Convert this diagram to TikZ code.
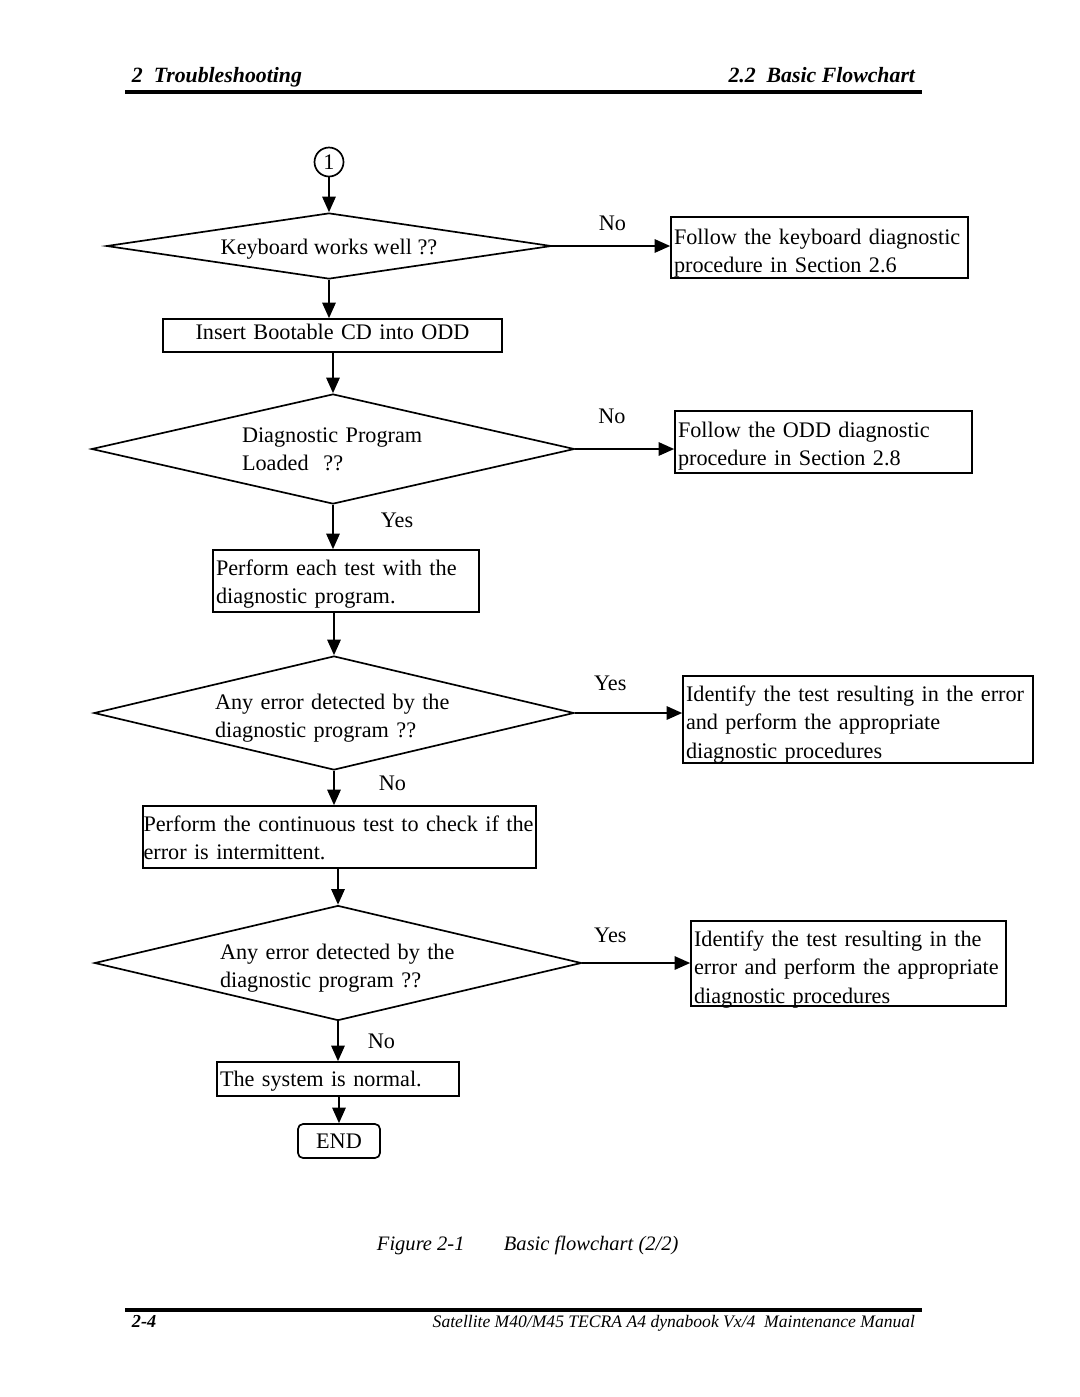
\documentclass[tikz,border=0pt]{standalone}
\usepackage{fontspec}
\setmainfont{Liberation Serif}
\usepackage{tikz}
\usetikzlibrary{
    arrows.meta,
    shapes.geometric,
    positioning,
}
\newlength{\pxu}
\setlength{\pxu}{0.025cm}
\hyphenpenalty=10000
\exhyphenpenalty=10000

\begin{document}
\begin{tikzpicture}[x=1\pxu, y=-1\pxu, >={Triangle[length=11pt, width=9.5pt]}]

    \tikzstyle{commonNode}=[draw=black, line width=1.2pt, font=\fontsize{15.8}{20.6}\selectfont, inner sep=0pt]
    \tikzstyle{decision}=[commonNode, diamond, align=left]
    \tikzstyle{process}=[commonNode, rectangle, align=left, inner xsep=3\pxu]
    \tikzstyle{terminal}=[commonNode, rectangle, rounded corners=5\pxu, minimum width=82\pxu, minimum height=34\pxu, text height=24\pxu, text depth=10\pxu]
    \tikzstyle{connector}=[commonNode, circle, minimum size=29\pxu]
    \tikzstyle{flow}=[->, line width=1.2pt]
    \tikzstyle{answer}=[font=\fontsize{15.8}{20.6}\selectfont, inner sep=0pt]

    % Page
    \fill[white] (0,0) rectangle (1080,1397);

    % Header and footer
    \node at (127, 82) [anchor=base west, font=\fontsize{15.5}{18}\selectfont\bfseries\itshape] (HeadL) {2 \ Troubleshooting};
    \node at (920, 82) [anchor=base east, font=\fontsize{15.5}{18}\selectfont\bfseries\itshape] (HeadR) {2.2 \ Basic Flowchart};
    \fill (125, 90) rectangle (922, 94);
    \fill (125, 1308) rectangle (922, 1312);
    \node at (127, 1327) [anchor=base west, font=\fontsize{13}{15}\selectfont\bfseries\itshape] (FootL) {2-4};
    \node at (920, 1327) [anchor=base east, font=\fontsize{12.5}{15}\selectfont\itshape] (FootR) {Satellite M40/M45 TECRA A4 dynabook Vx/4 \ Maintenance Manual};

    % Caption
    \node at (372, 1250) [anchor=base west, font=\fontsize{14.6}{17}\selectfont\itshape] (Caption) {Figure 2-1\hspace{28pt}Basic flowchart (2/2)};

    % Main column
    \node at (329, 162) [connector] (C1) {1};
    \node at (329, 246) [decision, aspect=6.74, minimum width=445\pxu, minimum height=66\pxu, text height=20\pxu, text depth=4\pxu] (KBD) {Keyboard works well ??};
    \node at (332.5, 335.5) [process, align=center, text width=333\pxu, text height=20\pxu, text depth=13\pxu] (Ins) {Insert Bootable CD into ODD};
    \node at (333, 449) [decision, aspect=4.39, minimum width=483\pxu, minimum height=110\pxu, text width=182\pxu, text height=17\pxu, text depth=31\pxu] (DPL) {Diagnostic Program\\ Loaded \ ??};
    \node at (346, 581) [process, text width=260\pxu, text height=25\pxu, text depth=37\pxu] (Perf) {Perform each test with the\\ diagnostic program.};
    \node at (334, 713) [decision, aspect=4.21, minimum width=480\pxu, minimum height=114\pxu, text width=238\pxu, text height=20\pxu, text depth=28\pxu] (Err1) {Any error detected by the\\ diagnostic program ??};
    \node at (339.5, 837) [process, inner xsep=0.5\pxu, text width=392\pxu, text height=25\pxu, text depth=37\pxu] (Cont) {Perform the continuous test to check if the\\ error is intermittent.};
    \node at (338, 963) [decision, aspect=4.23, minimum width=487\pxu, minimum height=115\pxu, text width=236\pxu, text height=20\pxu, text depth=28\pxu] (Err2) {Any error detected by the\\ diagnostic program ??};
    \node at (338, 1079) [process, text width=236\pxu, text height=24\pxu, text depth=10\pxu] (Norm) {The system is normal.};
    \node at (339, 1141) [terminal] (End) {END};

    % Side boxes
    \node at (819.5, 247.5) [process, text width=291\pxu, text height=27\pxu, text depth=34\pxu] (KBDfix) {Follow the keyboard diagnostic\\ procedure in Section 2.6};
    \node at (823.5, 442) [process, text width=291\pxu, text height=26\pxu, text depth=36\pxu] (ODDfix) {Follow the ODD diagnostic\\ procedure in Section 2.8};
    \node at (858, 719.5) [process, text width=344\pxu, text height=25\pxu, text depth=62\pxu] (Err1fix) {Identify the test resulting in the error\\ and perform the appropriate\\ diagnostic procedures};
    \node at (848.5, 963.5) [process, text width=309\pxu, text height=25\pxu, text depth=60\pxu] (Err2fix) {Identify the test resulting in the\\ error and perform the appropriate\\ diagnostic procedures};

    % Flow down
    \draw [flow] (C1.south) -- (KBD.north);
    \draw [flow] (KBD.south) -- (KBD.south |- Ins.north);
    \draw [flow] (DPL.north |- Ins.south) -- (DPL.north);
    \draw [flow] (DPL.south) -- node [answer, pos=0.35, anchor=west, xshift=47\pxu] {Yes} (DPL.south |- Perf.north);
    \draw [flow] (Err1.north |- Perf.south) -- (Err1.north);
    \draw [flow] (Err1.south) -- node [answer, pos=0.36, anchor=west, xshift=44\pxu] {No} (Err1.south |- Cont.north);
    \draw [flow] (Err2.north |- Cont.south) -- (Err2.north);
    \draw [flow] (Err2.south) -- node [answer, pos=0.51, anchor=west, xshift=29\pxu] {No} (Err2.south |- Norm.north);
    \draw [flow] (End.north |- Norm.south) -- (End.north);

    % Flow right
    \draw [flow] (KBD.east) -- node [answer, pos=0.51, above=14.5\pxu] {No} (KBD.east -| KBDfix.west);
    \draw [flow] (DPL.east) -- node [answer, pos=0.37, above=24.5\pxu] {No} (DPL.east -| ODDfix.west);
    \draw [flow] (Err1.east) -- node [answer, pos=0.33, above=21.5\pxu] {Yes} (Err1.east -| Err1fix.west);
    \draw [flow] (Err2.east) -- node [answer, pos=0.26, above=19.5\pxu] {Yes} (Err2.east -| Err2fix.west);

    \useasboundingbox (0,0) rectangle (1080,1397);
\end{tikzpicture}
\end{document}
